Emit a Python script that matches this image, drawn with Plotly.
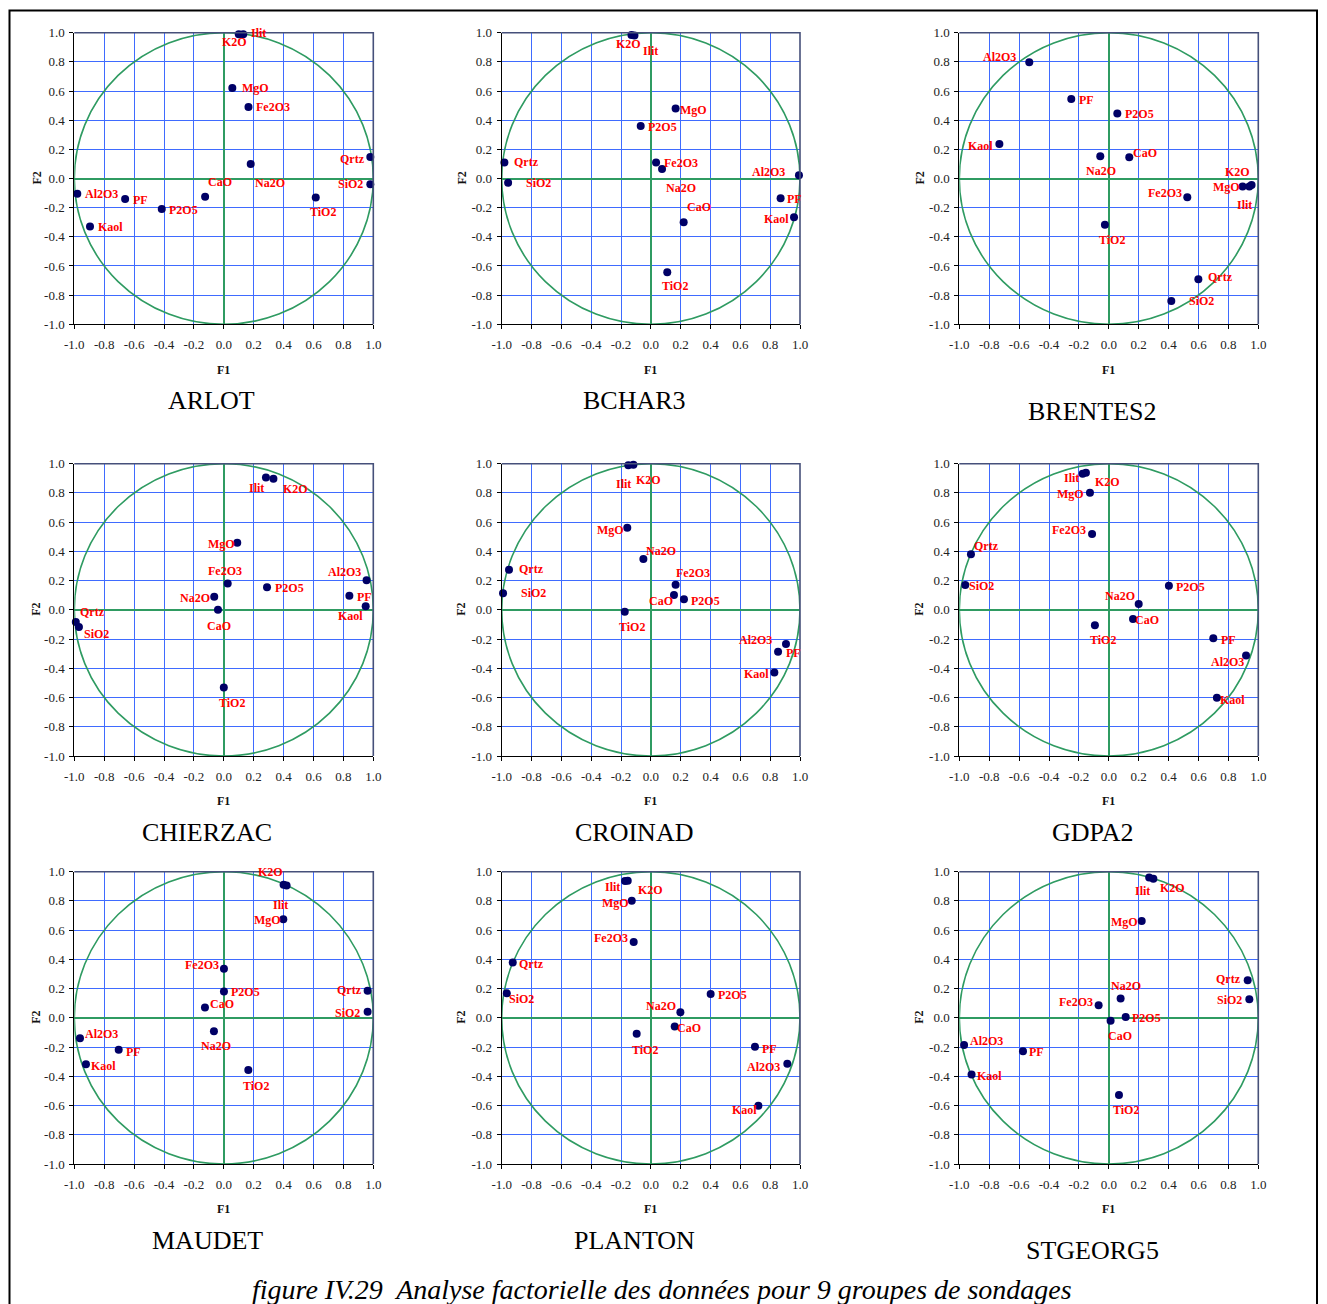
import plotly.graph_objects as go

# ---------------- data ----------------
VARIABLES = ["SiO2", "Al2O3", "Fe2O3", "MgO", "CaO", "Na2O", "K2O",
             "TiO2", "P2O5", "PF", "Kaol", "Ilit", "Qrtz"]

SITES = ["ARLOT", "BCHAR3", "BRENTES2", "CHIERZAC", "CROINAD",
         "GDPA2", "MAUDET", "PLANTON", "STGEORG5"]

ARLOT_F1 = [0.98, -0.98, 0.165, 0.057, -0.125, 0.18, 0.10, 0.615, -0.415, -0.66, -0.895, 0.13, 0.98]
ARLOT_F2 = [-0.04, -0.105, 0.49, 0.62, -0.125, 0.10, 0.99, -0.13, -0.21, -0.14, -0.33, 0.99, 0.147]

BCHAR3_F1 = [-0.957, 0.993, 0.035, 0.166, 0.22, 0.075, -0.13, 0.11, -0.068, 0.87, 0.96, -0.11, -0.982]
BCHAR3_F2 = [-0.03, 0.022, 0.11, 0.48, -0.30, 0.065, 0.985, -0.643, 0.36, -0.136, -0.266, 0.98, 0.109]

BRENTES2_F1 = [0.418, -0.532, 0.525, 0.895, 0.137, -0.057, 0.955, -0.026, 0.057, -0.251, -0.732, 0.94, 0.599]
BRENTES2_F2 = [-0.84, 0.797, -0.129, -0.055, 0.145, 0.152, -0.045, -0.317, 0.445, 0.545, 0.236, -0.055, -0.691]

CHIERZAC_F1 = [-0.969, 0.955, 0.026, 0.09, -0.039, -0.064, 0.332, 0.0, 0.289, 0.84, 0.949, 0.282, -0.99]
CHIERZAC_F2 = [-0.117, 0.202, 0.181, 0.459, 0.001, 0.09, 0.897, -0.532, 0.154, 0.097, 0.024, 0.906, -0.083]

CROINAD_F1 = [-0.991, 0.906, 0.166, -0.158, 0.155, -0.05, -0.117, -0.175, 0.222, 0.853, 0.828, -0.151, -0.951]
CROINAD_F2 = [0.113, -0.234, 0.172, 0.562, 0.101, 0.348, 0.993, -0.013, 0.072, -0.286, -0.428, 0.989, 0.275]

GDPA2_F1 = [-0.96, 0.918, -0.112, -0.126, 0.162, 0.2, -0.153, -0.093, 0.402, 0.699, 0.723, -0.175, -0.922]
GDPA2_F2 = [0.17, -0.312, 0.519, 0.802, -0.063, 0.04, 0.938, -0.106, 0.165, -0.195, -0.601, 0.932, 0.38]

MAUDET_F1 = [0.962, -0.962, 0.001, 0.398, -0.126, -0.066, 0.42, 0.164, 0.001, -0.703, -0.922, 0.40, 0.962]
MAUDET_F2 = [0.042, -0.14, 0.336, 0.674, 0.07, -0.092, 0.905, -0.357, 0.181, -0.218, -0.318, 0.91, 0.186]

PLANTON_F1 = [-0.966, 0.915, -0.115, -0.128, 0.16, 0.198, -0.155, -0.095, 0.401, 0.698, 0.721, -0.173, -0.926]
PLANTON_F2 = [0.168, -0.314, 0.519, 0.802, -0.06, 0.038, 0.938, -0.108, 0.163, -0.197, -0.601, 0.936, 0.378]

STGEORG5_F1 = [0.94, -0.968, -0.068, 0.22, 0.012, 0.079, 0.298, 0.068, 0.113, -0.574, -0.918, 0.27, 0.929]
STGEORG5_F2 = [0.127, -0.186, 0.086, 0.662, -0.019, 0.133, 0.952, -0.528, 0.006, -0.229, -0.387, 0.961, 0.257]

TICK_VALUES = [-1.0, -0.8, -0.6, -0.4, -0.2, 0.0, 0.2, 0.4, 0.6, 0.8, 1.0]
TICK_LABELS = ["-1.0", "-0.8", "-0.6", "-0.4", "-0.2", "0.0", "0.2", "0.4", "0.6", "0.8", "1.0"]

CAPTION = "figure IV.29  Analyse factorielle des données pour 9 groupes de sondages"

SERIES = {
    "ARLOT": (ARLOT_F1, ARLOT_F2),
    "BCHAR3": (BCHAR3_F1, BCHAR3_F2),
    "BRENTES2": (BRENTES2_F1, BRENTES2_F2),
    "CHIERZAC": (CHIERZAC_F1, CHIERZAC_F2),
    "CROINAD": (CROINAD_F1, CROINAD_F2),
    "GDPA2": (GDPA2_F1, GDPA2_F2),
    "MAUDET": (MAUDET_F1, MAUDET_F2),
    "PLANTON": (PLANTON_F1, PLANTON_F2),
    "STGEORG5": (STGEORG5_F1, STGEORG5_F2),
}

# ---------------- styling / layout (label offsets in px: dx right, dy down) ----------------
LABEL_OFFSETS = {
    "ARLOT": [(-20, 0), (24, 0), (25, 0), (23, 0), (15, -15), (19, 19), (-4, 8), (7, 15), (22, 1), (15, 1), (20, 0), (15, -1), (-18, 2)],
    "BCHAR3": [(30, 0), (-30, -3), (25, 1), (18, 1), (15, -15), (19, 19), (-3, 9), (8, 14), (22, 1), (14, 1), (-18, 2), (16, 15), (22, -1)],
    "BRENTES2": [(30, 0), (-30, -5), (-22, -4), (-16, 0), (16, -4), (1, 15), (-14, -13), (7, 15), (22, 0), (15, 1), (-19, 2), (-5, 18), (22, -2)],
    "CHIERZAC": [(18, 7), (-22, -8), (-3, -12), (-16, 1), (1, 16), (-19, 1), (22, 10), (8, 15), (22, 1), (15, 1), (-15, 10), (-9, 11), (17, -10)],
    "CROINAD": [(30, 0), (-30, -4), (17, -12), (-17, 2), (-13, 6), (18, -8), (15, 15), (7, 15), (22, 2), (15, 1), (-18, 2), (-5, 19), (22, -1)],
    "GDPA2": [(16, 1), (-19, 7), (-23, -4), (-19, 1), (14, 1), (-19, -8), (22, 9), (8, 15), (22, 1), (15, 2), (16, 2), (-11, 4), (16, -8)],
    "MAUDET": [(-20, 1), (22, -4), (-22, -4), (-16, 1), (17, -4), (2, 15), (-16, -14), (8, 16), (22, 1), (15, 2), (18, 2), (-3, 20), (-18, -1)],
    "PLANTON": [(15, 6), (-24, 3), (-23, -4), (-16, 2), (14, 1), (-19, -6), (23, 9), (8, 16), (22, 1), (15, 2), (-14, 4), (-13, 6), (19, 1)],
    "STGEORG5": [(-20, 1), (22, -4), (-23, -3), (-17, 1), (9, 15), (5, -12), (19, 9), (7, 15), (21, 1), (14, 1), (18, 2), (-7, 14), (-19, -1)],
}

# the page body has an 8px margin: figure is sized to fill the rest of the window
OFF = 8
W, H = 1327 - OFF, 1304 - OFF
COLS_PX = [(74.3, 373.3), (501.7, 800.0), (959.3, 1258.3)]
ROWS_PX = [(32.7, 324.3), (463.7, 756.0), (871.7, 1164.0)]
TITLE_POS = [(211, 400), (634, 400), (1092, 411),
             (207, 832), (634, 832), (1092, 832),
             (207, 1240), (634, 1240), (1092, 1250)]
F1_Y = [370, 801, 1209]
F2_X = [36, 461, 919]
CAPTION_POS = (662, 1289)
FRAME_PX = (9.5, 10.5, 1317, 1330)

SERIF = "Liberation Serif, Times New Roman, serif"
GRID = "#3f6bff"
GREEN = "#2f9b62"
NAVY = "#000066"
RED = "#ff0000"
BORDER = "#46507a"


def px_x(v):
    return (v - OFF) / W


def px_y(v):
    return 1 - (v - OFF) / H


fig = go.Figure()
layout = dict(
    template="none",
    width=W, height=H, autosize=False,
    margin=dict(l=0, r=0, t=0, b=0, pad=0, autoexpand=False),
    paper_bgcolor="white", plot_bgcolor="white",
    showlegend=False,
    shapes=[], annotations=[],
)

for i, site in enumerate(SITES):
    r, c = divmod(i, 3)
    n = i + 1
    xa = "x" if n == 1 else f"x{n}"
    ya = "y" if n == 1 else f"y{n}"
    xkey = "xaxis" if n == 1 else f"xaxis{n}"
    ykey = "yaxis" if n == 1 else f"yaxis{n}"
    x0p, x1p = COLS_PX[c]
    y0p, y1p = ROWS_PX[r]

    common = dict(
        range=[-1, 1], tickmode="array", tickvals=TICK_VALUES, ticktext=TICK_LABELS,
        showgrid=True, gridcolor=GRID, gridwidth=1,
        zeroline=True, zerolinecolor=GREEN, zerolinewidth=1.6,
        showline=True, linecolor="black", linewidth=1, mirror=False,
        ticks="outside", ticklen=4, tickcolor="black",
        tickfont=dict(family=SERIF, size=13, color="#222222"),
        fixedrange=True, automargin=False,
    )
    layout[xkey] = dict(common, domain=[px_x(x0p), px_x(x1p)], anchor=ya,
                        ticklabelstandoff=4)
    layout[ykey] = dict(common, domain=[px_y(y1p), px_y(y0p)], anchor=xa,
                        ticklabelstandoff=2)

    f1, f2 = SERIES[site]
    fig.add_trace(go.Scatter(
        x=f1, y=f2, mode="markers", xaxis=xa, yaxis=ya,
        marker=dict(color=NAVY, size=8, line=dict(width=0)),
        cliponaxis=False, hoverinfo="skip",
    ))

    layout["shapes"].append(dict(
        type="circle", xref=xa, yref=ya, x0=-1, x1=1, y0=-1, y1=1,
        line=dict(color=GREEN, width=1.6), layer="between",
    ))
    # top and right plot-area border
    layout["shapes"].append(dict(
        type="path", xref=f"{xa} domain", yref=f"{ya} domain",
        path="M 0,1 L 1,1 L 1,0", line=dict(color=BORDER, width=1.6), layer="above",
    ))

    for k, name in enumerate(VARIABLES):
        dx, dy = LABEL_OFFSETS[site][k]
        layout["annotations"].append(dict(
            x=f1[k], y=f2[k], xref=xa, yref=ya, text=name, showarrow=False,
            xshift=dx, yshift=-dy, xanchor="center", yanchor="middle",
            font=dict(family=SERIF, size=12, color=RED, weight="bold"),
        ))

    # axis titles
    layout["annotations"].append(dict(
        x=px_x((x0p + x1p) / 2), y=px_y(F1_Y[r]), xref="paper", yref="paper",
        text="<b>F1</b>", showarrow=False, xanchor="center", yanchor="middle",
        font=dict(family=SERIF, size=12, color="#111111"),
    ))
    layout["annotations"].append(dict(
        x=px_x(F2_X[c]), y=px_y((y0p + y1p) / 2), xref="paper", yref="paper",
        text="<b>F2</b>", showarrow=False, textangle=-90,
        xanchor="center", yanchor="middle",
        font=dict(family=SERIF, size=12, color="#111111"),
    ))
    tx, ty = TITLE_POS[i]
    layout["annotations"].append(dict(
        x=px_x(tx), y=px_y(ty), xref="paper", yref="paper", text=site,
        showarrow=False, xanchor="center", yanchor="middle",
        font=dict(family=SERIF, size=26, color="black"),
    ))

layout["annotations"].append(dict(
    x=px_x(CAPTION_POS[0]), y=px_y(CAPTION_POS[1]), xref="paper", yref="paper",
    text=f"<i>{CAPTION}</i>", showarrow=False, xanchor="center", yanchor="middle",
    font=dict(family=SERIF, size=28, color="black"),
))

# outer frame (bottom edge lies below the visible page, as in the reference)
fx0, fy0, fx1, fy1 = FRAME_PX
layout["shapes"].append(dict(
    type="rect", xref="paper", yref="paper",
    x0=px_x(fx0), x1=px_x(fx1), y0=px_y(fy1), y1=px_y(fy0),
    line=dict(color="black", width=2), fillcolor="rgba(0,0,0,0)", layer="above",
))

fig.update_layout(**layout)
fig.write_html("out.html")
